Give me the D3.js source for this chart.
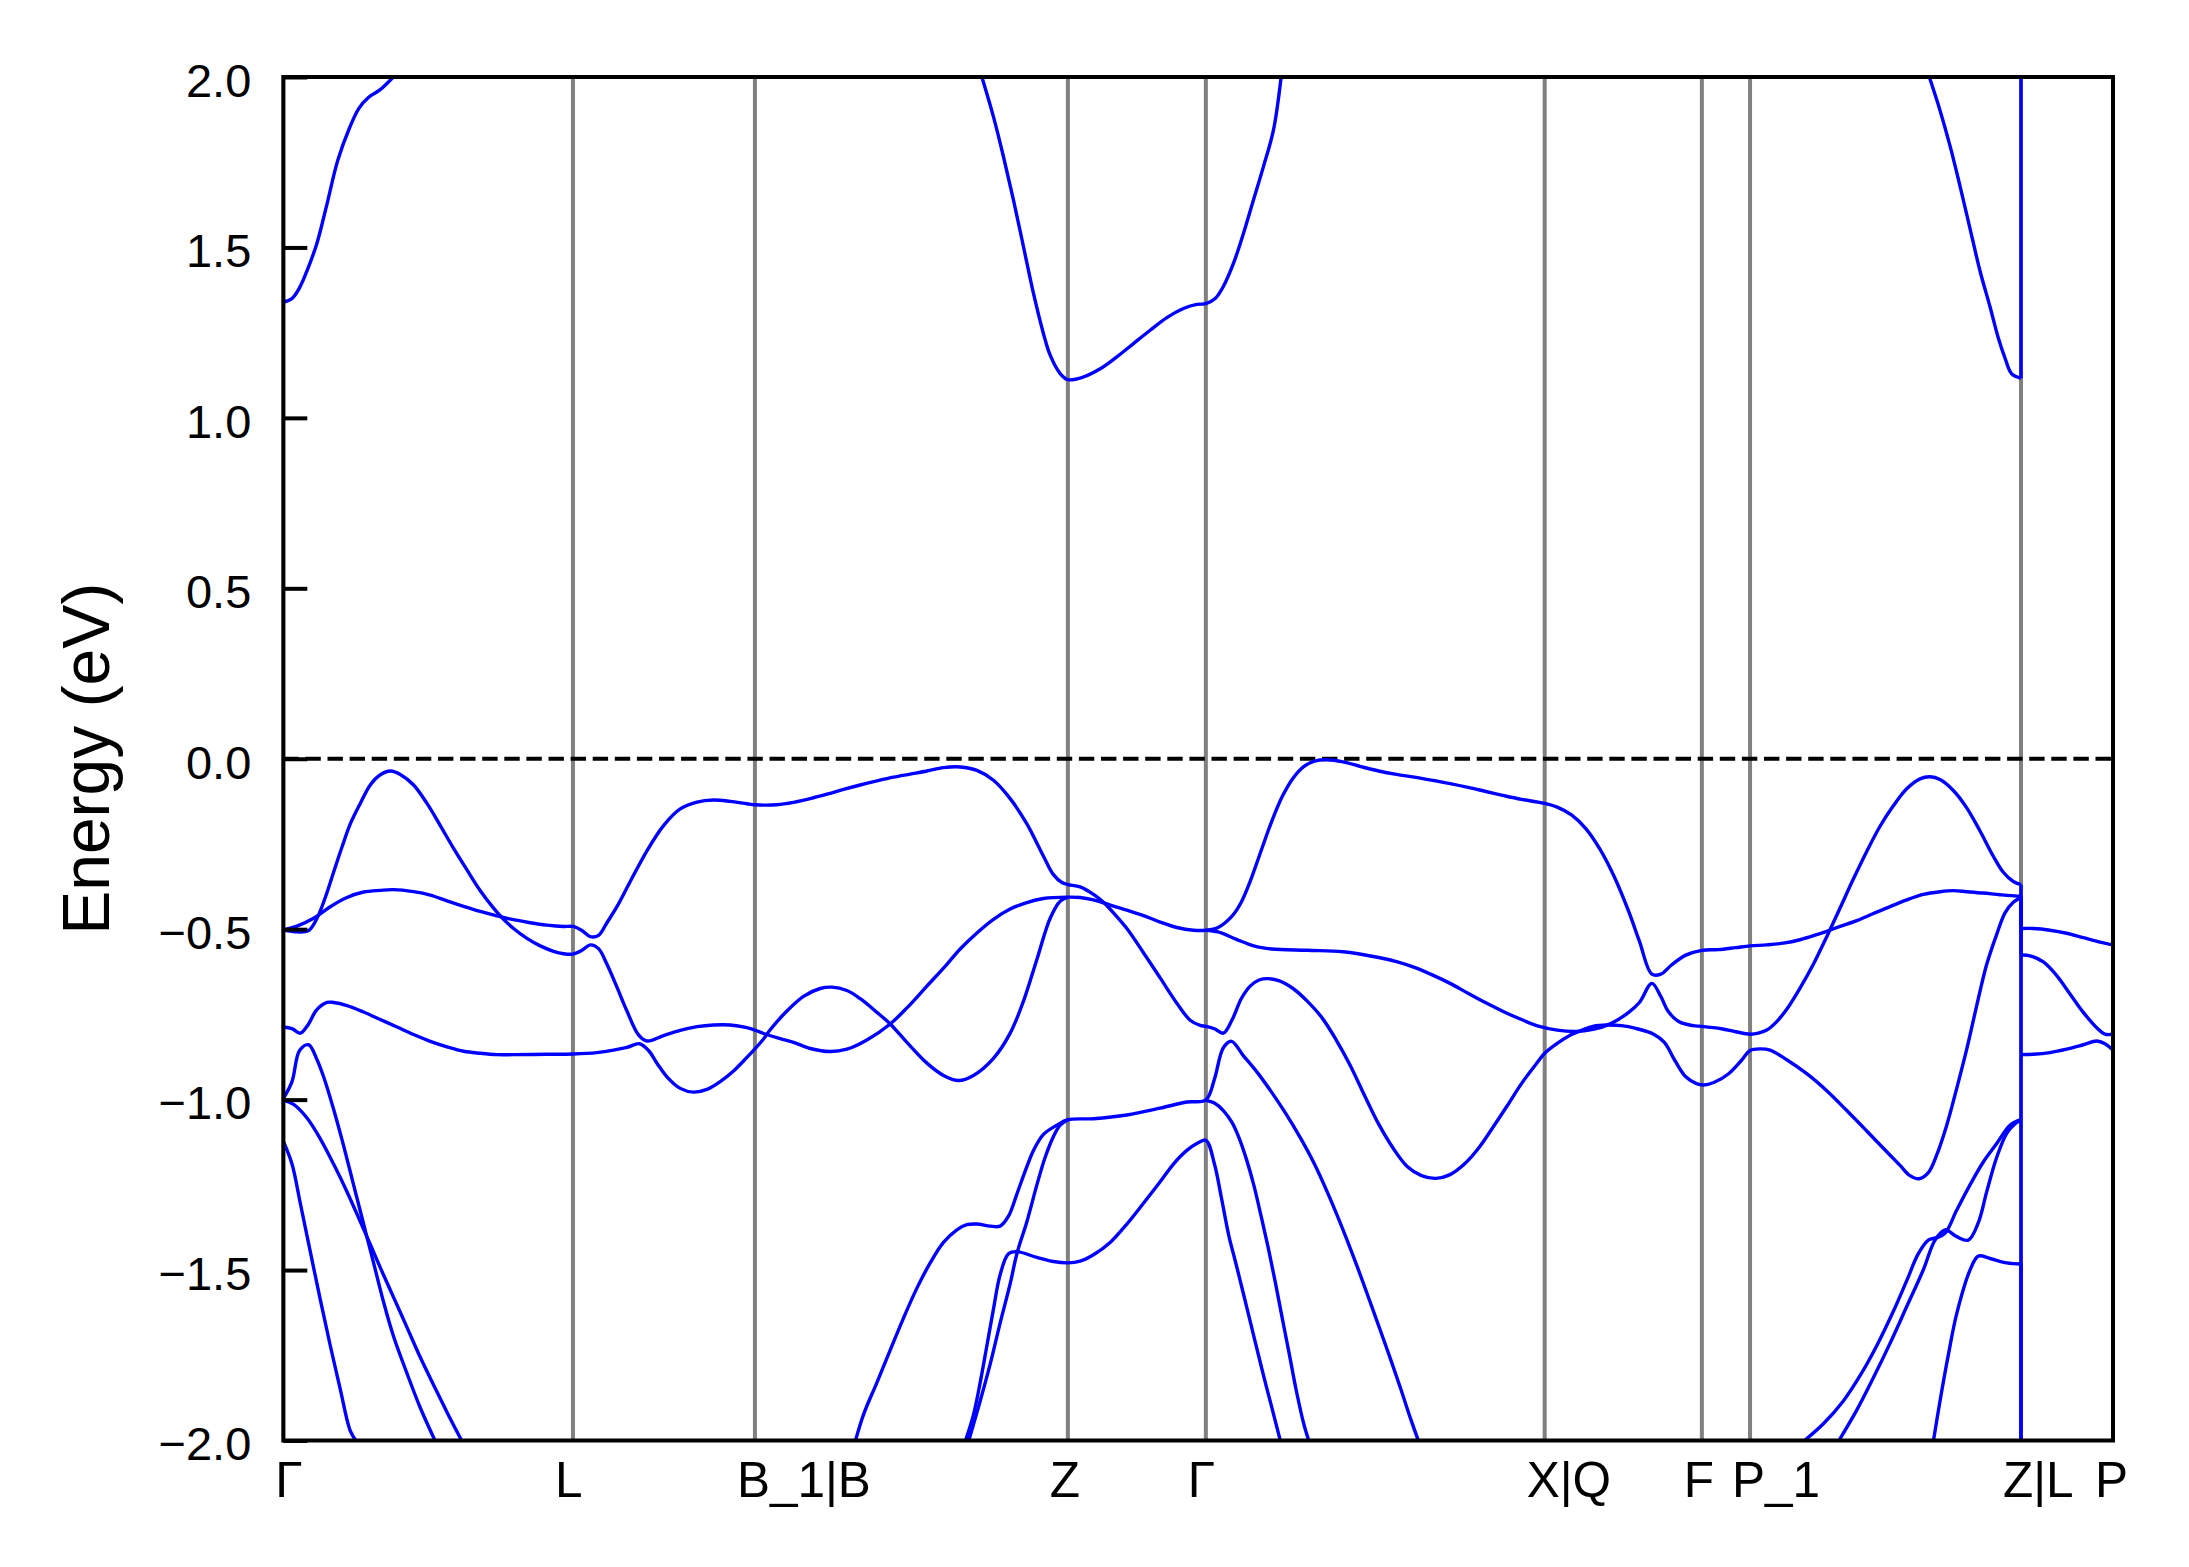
<!DOCTYPE html>
<html><head><meta charset="utf-8">
<script src="https://cdn.jsdelivr.net/npm/d3@7"></script>
<style>html,body{margin:0;padding:0;background:#fff;} svg{display:block;}</style>
</head><body>
<script>
// ---- k-path ticks ----
const kTicks = [0, 2.897, 4.717, 7.847, 9.227, 12.616, 14.188, 14.67, 17.38, 18.30];
const kLabels = ["Γ", "L", "B_1|B", "Z", "Γ", "X|Q", "F", "P_1", "Z|L", "P"];
const eTicks = [-2, -1.5, -1, -0.5, 0, 0.5, 1, 1.5, 2];

// ---- conduction band pieces (k, E in eV) ----
const cbGammaL = [[0,1.340],[0.086,1.350],[0.163,1.382],[0.239,1.433],[0.335,1.511],[0.43,1.619],[0.545,1.756],[0.66,1.849],[0.756,1.908],[0.851,1.940],[0.966,1.962],[1.10,2.0]];
const cbZGamma = [[6.987,2.0],[7.103,1.883],[7.203,1.766],[7.303,1.639],[7.403,1.502],[7.503,1.365],[7.603,1.247],[7.67,1.184],[7.77,1.130],[7.847,1.112],[8.003,1.120],[8.17,1.144],[8.337,1.179],[8.503,1.218],[8.67,1.257],[8.837,1.294],[9.003,1.321],[9.137,1.333],[9.227,1.335],[9.32,1.350],[9.403,1.386],[9.503,1.453],[9.603,1.541],[9.703,1.639],[9.803,1.737],[9.903,1.844],[9.98,2.0]];
const cbP1Z = [[16.463,2.0],[16.57,1.902],[16.67,1.798],[16.77,1.680],[16.87,1.555],[16.97,1.431],[17.07,1.326],[17.153,1.234],[17.22,1.175],[17.287,1.129],[17.38,1.116],[17.38,2.0]];

// ---- valence bands ----
const band1 = [[0,-0.502],[0.137,-0.508],[0.253,-0.504],[0.337,-0.468],[0.42,-0.407],[0.503,-0.333],[0.587,-0.259],[0.67,-0.191],[0.77,-0.131],[0.87,-0.077],[0.97,-0.047],[1.07,-0.036],[1.17,-0.046],[1.303,-0.077],[1.437,-0.131],[1.57,-0.196],[1.703,-0.263],[1.837,-0.326],[1.97,-0.387],[2.103,-0.438],[2.203,-0.471],[2.303,-0.498],[2.437,-0.527],[2.57,-0.549],[2.703,-0.565],[2.803,-0.572],[2.897,-0.573],
[2.987,-0.562],[3.07,-0.546],[3.153,-0.557],[3.237,-0.603],[3.337,-0.670],[3.437,-0.740],[3.553,-0.810],[3.637,-0.828],[3.803,-0.812],[3.97,-0.797],[4.137,-0.786],[4.303,-0.781],[4.47,-0.781],[4.637,-0.789],[4.717,-0.796],[4.803,-0.806],[4.97,-0.821],
[5.103,-0.832],[5.27,-0.850],[5.47,-0.859],[5.637,-0.852],[5.837,-0.825],[6.07,-0.778],[6.237,-0.731],[6.437,-0.667],[6.637,-0.603],[6.77,-0.558],[6.937,-0.511],[7.103,-0.471],[7.27,-0.441],[7.437,-0.422],[7.603,-0.410],[7.847,-0.406],
[7.97,-0.407],[8.103,-0.414],[8.203,-0.423],[8.437,-0.444],[8.603,-0.460],[8.77,-0.479],[8.937,-0.495],[9.103,-0.503],[9.227,-0.503],
[9.349,-0.495],[9.491,-0.461],[9.581,-0.421],[9.67,-0.360],[9.777,-0.272],[9.884,-0.185],[9.991,-0.111],[10.099,-0.057],[10.206,-0.023],[10.313,-0.007],[10.438,-0.003],[10.599,-0.009],[10.777,-0.023],[10.956,-0.036],[11.134,-0.046],[11.313,-0.054],[11.527,-0.065],[11.67,-0.073],[11.849,-0.084],[12.027,-0.096],[12.206,-0.108],[12.384,-0.119],[12.616,-0.131],[12.741,-0.142],[12.884,-0.165],[13.027,-0.205],[13.17,-0.266],[13.313,-0.347],[13.456,-0.448],[13.563,-0.535],[13.688,-0.632],[13.777,-0.632],[13.884,-0.605],[14.027,-0.576],[14.188,-0.562],[14.349,-0.560],[14.527,-0.554],[14.67,-0.549],
[14.837,-0.546],[15.003,-0.541],[15.17,-0.531],[15.337,-0.516],[15.437,-0.506],[15.57,-0.492],[15.737,-0.475],[15.903,-0.454],[16.07,-0.434],[16.237,-0.414],[16.403,-0.398],[16.57,-0.390],[16.703,-0.387],[16.837,-0.390],[17.003,-0.394],[17.17,-0.399],[17.337,-0.403],[17.38,-0.403],
[17.38,-0.576],[17.47,-0.578],[17.603,-0.596],[17.737,-0.636],[17.87,-0.690],[18.003,-0.744],[18.137,-0.789],[18.22,-0.808],[18.30,-0.808]];

const band2 = [[0,-0.502],[0.137,-0.491],[0.303,-0.468],[0.47,-0.434],[0.637,-0.407],[0.803,-0.391],[0.97,-0.386],[1.103,-0.384],[1.303,-0.390],[1.47,-0.400],[1.637,-0.417],[1.803,-0.433],[1.97,-0.448],[2.137,-0.461],[2.303,-0.472],[2.47,-0.481],[2.637,-0.488],[2.803,-0.492],[2.897,-0.492],
[2.987,-0.504],[3.07,-0.522],[3.153,-0.518],[3.237,-0.481],[3.337,-0.434],[3.47,-0.360],[3.637,-0.270],[3.803,-0.196],[3.97,-0.147],[4.137,-0.127],[4.303,-0.121],[4.47,-0.125],[4.637,-0.132],[4.717,-0.135],
[4.937,-0.135],[5.103,-0.128],[5.27,-0.117],[5.437,-0.104],[5.603,-0.090],[5.77,-0.077],[5.937,-0.065],[6.103,-0.054],[6.27,-0.045],[6.437,-0.036],[6.603,-0.026],[6.77,-0.024],[6.937,-0.034],[7.103,-0.063],[7.27,-0.117],[7.437,-0.191],[7.603,-0.286],[7.703,-0.340],[7.787,-0.363],[7.847,-0.369],
[7.97,-0.376],[8.103,-0.398],[8.203,-0.421],[8.303,-0.452],[8.437,-0.498],[8.603,-0.569],[8.77,-0.643],[8.937,-0.717],[9.07,-0.767],[9.17,-0.782],[9.227,-0.785],
[9.313,-0.792],[9.402,-0.805],[9.491,-0.765],[9.581,-0.704],[9.67,-0.667],[9.759,-0.649],[9.849,-0.645],[9.956,-0.651],[10.099,-0.674],[10.241,-0.711],[10.384,-0.758],[10.527,-0.823],[10.67,-0.899],[10.813,-0.987],[10.956,-1.072],[11.099,-1.142],[11.241,-1.196],[11.384,-1.223],[11.527,-1.231],[11.67,-1.220],[11.813,-1.189],[11.956,-1.142],[12.099,-1.081],[12.241,-1.018],[12.384,-0.953],[12.527,-0.897],[12.616,-0.864],[12.741,-0.835],[12.884,-0.809],[12.991,-0.796],[13.099,-0.785],[13.241,-0.781],[13.384,-0.783],[13.527,-0.791],[13.706,-0.808],[13.813,-0.832],[13.92,-0.886],[14.027,-0.933],[14.134,-0.953],[14.206,-0.957],[14.313,-0.949],[14.456,-0.924],[14.581,-0.886],[14.67,-0.856],
[14.77,-0.851],[14.87,-0.855],[15.037,-0.883],[15.237,-0.924],[15.437,-0.974],[15.637,-1.032],[15.837,-1.092],[16.037,-1.153],[16.17,-1.193],[16.27,-1.223],[16.36,-1.232],[16.453,-1.214],[16.537,-1.162],[16.637,-1.075],[16.737,-0.967],[16.837,-0.852],[16.937,-0.724],[17.037,-0.603],[17.137,-0.515],[17.22,-0.452],[17.303,-0.421],[17.38,-0.407],
[17.38,-0.868],[17.503,-0.867],[17.67,-0.862],[17.837,-0.852],[18.003,-0.839],[18.137,-0.828],[18.22,-0.836],[18.30,-0.855]];

const band3 = [[0,-0.787],[0.087,-0.792],[0.17,-0.805],[0.253,-0.778],[0.33,-0.738],[0.437,-0.715],[0.503,-0.715],[0.637,-0.724],[0.803,-0.743],[0.97,-0.765],[1.137,-0.787],[1.303,-0.809],[1.47,-0.829],[1.637,-0.845],[1.803,-0.858],[1.97,-0.864],[2.137,-0.868],[2.303,-0.868],[2.637,-0.867],[2.897,-0.866],
[3.137,-0.862],[3.303,-0.855],[3.437,-0.847],[3.563,-0.836],[3.653,-0.856],[3.737,-0.893],[3.837,-0.933],[3.97,-0.967],[4.103,-0.978],[4.237,-0.970],[4.37,-0.947],[4.503,-0.916],[4.637,-0.876],[4.717,-0.851],[4.803,-0.822],[4.87,-0.795],
[5.037,-0.740],[5.203,-0.697],[5.37,-0.674],[5.487,-0.670],[5.637,-0.680],[5.77,-0.704],[5.937,-0.744],[6.07,-0.778],[6.237,-0.832],[6.437,-0.893],[6.603,-0.929],[6.753,-0.944],[6.903,-0.929],[7.103,-0.879],[7.27,-0.805],[7.403,-0.711],[7.537,-0.589],[7.67,-0.468],[7.77,-0.418],[7.847,-0.407]];

const band4 = [[9.227,-0.503],[9.349,-0.508],[9.527,-0.529],[9.706,-0.549],[9.884,-0.558],[10.241,-0.562],[10.599,-0.566],[10.956,-0.583],[11.134,-0.595],[11.313,-0.612],[11.491,-0.634],[11.67,-0.659],[11.849,-0.688],[12.027,-0.716],[12.206,-0.742],[12.384,-0.765],[12.563,-0.785],[12.741,-0.796],[12.92,-0.800],[13.099,-0.794],[13.277,-0.777],[13.456,-0.744],[13.563,-0.715],[13.688,-0.659],[13.777,-0.697],[13.849,-0.740],[13.956,-0.771],[14.099,-0.783],[14.188,-0.785],[14.384,-0.792],[14.527,-0.801],[14.67,-0.808],
[14.753,-0.805],[14.837,-0.796],[14.937,-0.771],[15.037,-0.735],[15.17,-0.673],[15.303,-0.603],[15.437,-0.522],[15.57,-0.438],[15.703,-0.353],[15.837,-0.272],[15.97,-0.198],[16.103,-0.138],[16.237,-0.088],[16.37,-0.059],[16.47,-0.053],[16.57,-0.061],[16.703,-0.093],[16.837,-0.144],[16.97,-0.212],[17.103,-0.286],[17.203,-0.333],[17.303,-0.360],[17.38,-0.369],
[17.38,-0.498],[17.503,-0.498],[17.67,-0.503],[17.837,-0.512],[18.003,-0.525],[18.17,-0.538],[18.30,-0.546]];

const band5 = [[0,-0.997],[0.087,-0.947],[0.163,-0.856],[0.253,-0.839],[0.337,-0.883],[0.403,-0.933],[0.503,-1.028],[0.603,-1.135],[0.703,-1.250],[0.803,-1.365],[0.903,-1.479],[1.003,-1.594],[1.103,-1.695],[1.237,-1.803],[1.37,-1.904],[1.52,-2.002]];
const band6 = [[0,-1.002],[0.103,-1.014],[0.237,-1.054],[0.37,-1.115],[0.503,-1.189],[0.637,-1.270],[0.77,-1.358],[0.87,-1.425],[0.97,-1.493],[1.103,-1.580],[1.237,-1.668],[1.37,-1.756],[1.503,-1.837],[1.637,-1.917],[1.787,-2.002]];
const band7 = [[0,-1.122],[0.087,-1.189],[0.17,-1.304],[0.27,-1.446],[0.37,-1.587],[0.47,-1.722],[0.57,-1.850],[0.67,-1.972],[0.73,-2.002]];

const band8 = [[5.72,-2.003],[5.803,-1.924],[5.937,-1.830],[6.07,-1.735],[6.203,-1.641],[6.337,-1.553],[6.47,-1.479],[6.603,-1.419],[6.737,-1.382],[6.837,-1.367],[6.937,-1.365],[7.07,-1.371],[7.17,-1.371],[7.253,-1.342],[7.337,-1.277],[7.42,-1.210],[7.503,-1.149],[7.603,-1.102],[7.737,-1.075],[7.847,-1.059],[8.103,-1.056],[8.437,-1.045],[8.77,-1.025],[9.037,-1.007],[9.227,-1.001],
[9.313,-0.940],[9.402,-0.848],[9.484,-0.829],[9.599,-0.870],[9.741,-0.920],[9.884,-0.978],[10.027,-1.041],[10.17,-1.111],[10.313,-1.189],[10.456,-1.281],[10.599,-1.382],[10.741,-1.490],[10.884,-1.605],[11.027,-1.722],[11.17,-1.843],[11.277,-1.938],[11.356,-2.003]];
const band9 = [[6.853,-2.003],[6.97,-1.884],[7.07,-1.776],[7.17,-1.655],[7.27,-1.540],[7.337,-1.452],[7.437,-1.358],[7.537,-1.250],[7.62,-1.169],[7.703,-1.108],[7.77,-1.075],[7.847,-1.059]];
const band10 = [[9.227,-1.002],[9.313,-1.010],[9.402,-1.032],[9.491,-1.068],[9.563,-1.115],[9.634,-1.176],[9.706,-1.250],[9.777,-1.338],[9.849,-1.432],[9.92,-1.533],[9.991,-1.641],[10.063,-1.749],[10.134,-1.857],[10.206,-1.951],[10.259,-2.003]];
const band11 = [[6.82,-2.003],[6.903,-1.924],[6.97,-1.830],[7.037,-1.722],[7.103,-1.614],[7.17,-1.513],[7.253,-1.452],[7.337,-1.446],[7.537,-1.463],[7.703,-1.475],[7.847,-1.479],[7.97,-1.474],[8.103,-1.455],[8.27,-1.419],[8.437,-1.365],[8.603,-1.304],[8.77,-1.241],[8.903,-1.189],[9.037,-1.149],[9.137,-1.129],[9.227,-1.119],
[9.313,-1.189],[9.384,-1.290],[9.456,-1.398],[9.527,-1.48],[9.599,-1.565],[9.67,-1.65],[9.741,-1.735],[9.813,-1.82],[9.884,-1.90],[9.974,-2.003]];
const band12 = [[15.203,-2.003],[15.403,-1.951],[15.603,-1.884],[15.77,-1.810],[15.937,-1.722],[16.103,-1.621],[16.237,-1.531],[16.353,-1.452],[16.453,-1.412],[16.537,-1.405],[16.62,-1.392],[16.737,-1.324],[16.87,-1.250],[17.003,-1.183],[17.137,-1.129],[17.27,-1.075],[17.38,-1.059],[17.38,-2.0]];
const band13 = [[15.553,-2.003],[15.737,-1.911],[15.903,-1.816],[16.07,-1.715],[16.237,-1.607],[16.403,-1.499],[16.52,-1.412],[16.62,-1.382],[16.737,-1.402],[16.853,-1.412],[16.953,-1.361],[17.037,-1.270],[17.137,-1.169],[17.237,-1.099],[17.32,-1.071],[17.38,-1.059],[17.38,-0.868]];
const band14 = [[16.503,-2.003],[16.57,-1.884],[16.653,-1.749],[16.737,-1.628],[16.87,-1.500],[16.953,-1.459],[17.07,-1.466],[17.237,-1.479],[17.38,-1.482],[17.38,-2.0]];

const bands = [cbGammaL, cbZGamma, cbP1Z, band1, band2, band3, band4, band5, band6, band7, band8, band9, band10, band11, band12, band13, band14];

// ---- drawing ----
const W = 2189, H = 1567;
const L0 = 283.3, R0 = 2113, T0 = 77, B0 = 1440.5;
const FONT = "'Liberation Sans', Arial, Helvetica, sans-serif";

const svg = d3.select("body").append("svg").attr("width", W).attr("height", H);
svg.append("rect").attr("width", W).attr("height", H).attr("fill", "#fff");

const x = d3.scaleLinear().domain([kTicks[0], kTicks[kTicks.length - 1]]).range([L0, R0]);
const y = d3.scaleLinear().domain([-2, 2]).range([B0, T0]);

svg.append("defs").append("clipPath").attr("id", "clip")
  .append("rect").attr("x", L0).attr("y", T0).attr("width", R0 - L0).attr("height", B0 - T0);

const plot = svg.append("g").attr("clip-path", "url(#clip)");

// high-symmetry vertical lines
plot.append("g").selectAll("line").data(kTicks).join("line")
  .attr("x1", d => x(d)).attr("x2", d => x(d))
  .attr("y1", y(-2)).attr("y2", y(2))
  .attr("stroke", "#808080").attr("stroke-width", 4);

// Fermi level
plot.append("line")
  .attr("x1", x(kTicks[0])).attr("x2", x(kTicks[kTicks.length - 1]))
  .attr("y1", y(0)).attr("y2", y(0))
  .attr("stroke", "#000").attr("stroke-width", 4)
  .attr("stroke-dasharray", "15.4,6.7");

// bands: split each band where k repeats (vertical jumps drawn straight)
function splitRuns(band) {
  const runs = [];
  let cur = [band[0]];
  for (let i = 1; i < band.length; i++) {
    if (band[i][0] === band[i - 1][0]) {
      runs.push(cur);
      runs.push([band[i - 1], band[i]]);
      cur = [band[i]];
    } else cur.push(band[i]);
  }
  runs.push(cur);
  return runs.filter(r => r.length > 1);
}
const pieces = bands.flatMap(splitRuns);
const line = d3.line().x(d => x(d[0])).y(d => y(d[1])).curve(d3.curveCatmullRom.alpha(0.5));
plot.append("g").selectAll("path").data(pieces).join("path")
  .attr("d", line)
  .attr("fill", "none")
  .attr("stroke", "#0000ff")
  .attr("stroke-width", 3.4)
  .attr("stroke-linejoin", "round");

// y axis (ticks inside)
const yAxis = d3.axisLeft(y).tickValues(eTicks).tickSize(-24).tickPadding(32).tickFormat(d3.format(".1f"));
const gy = svg.append("g").attr("transform", `translate(${L0},0)`).call(yAxis);
gy.select(".domain").remove();
gy.selectAll(".tick line").attr("stroke", "#000").attr("stroke-width", 4);
gy.selectAll(".tick text").attr("font-family", FONT).attr("font-size", 47).attr("fill", "#000").attr("dy", "0.41em");

// x tick labels
svg.append("g").selectAll("text").data(kTicks).join("text")
  .attr("x", (d, i) => x(d) + (i === 0 ? -8 : -18))
  .attr("y", 1497)
  .attr("text-anchor", "start")
  .attr("font-family", FONT).attr("font-size", 49.5).attr("fill", "#000")
  .text((d, i) => kLabels[i]);

// frame
svg.append("rect").attr("x", L0).attr("y", T0).attr("width", R0 - L0).attr("height", B0 - T0)
  .attr("fill", "none").attr("stroke", "#000").attr("stroke-width", 4);

// y label
svg.append("text")
  .attr("transform", `translate(108.5,${(T0 + B0) / 2}) rotate(-90)`)
  .attr("text-anchor", "middle")
  .attr("font-family", FONT).attr("font-size", 66).attr("fill", "#000")
  .text("Energy (eV)");
</script>
</body></html>
